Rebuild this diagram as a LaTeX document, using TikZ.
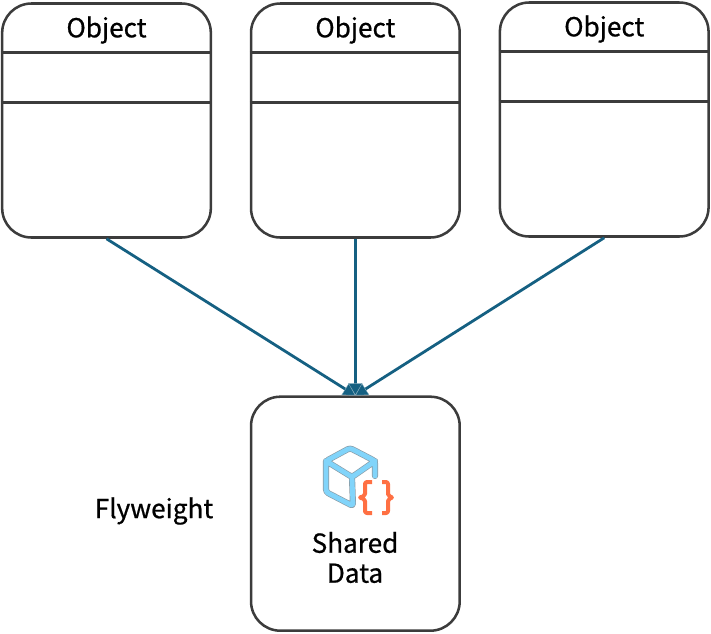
\documentclass[tikz,border=0pt]{standalone}
\usepackage{fontspec}
\setmainfont{Noto Sans CJK KR}[RawFeature={embolden=0.7}]
\usetikzlibrary{positioning,arrows.meta}

\begin{document}
\begin{tikzpicture}[
    x=0.75pt, y=-0.75pt,
    node distance=28.25pt,
    % boxes and labels
    objbox/.style={rectangle, draw=boxgray, line width=1.9pt, rounded corners=22pt, minimum width=156.5pt, minimum height=175.5pt, inner sep=0},
    caption/.style={font=\fontsize{19.6}{22.5}\selectfont, align=center, text=black, inner sep=0},
    rule/.style={draw=boxgray, line width=1.9pt},
    flow/.style={-{Triangle[length=9pt, width=10.5pt, fill=flowblue, color=flowblue!55, line width=0.3pt]}, draw=flowblue, line width=2.1pt}
  ]
  \definecolor{boxgray}{HTML}{3C3C3C}
  \definecolor{flowblue}{HTML}{156082}
  \definecolor{cubeblue}{HTML}{81D4FA}
  \definecolor{cubeedge}{HTML}{8A9BA5}
  \definecolor{braceorange}{HTML}{FF7043}

  \useasboundingbox (0,0) rectangle (711,633);

  % Objects
  \node[objbox] (obja) at (106.5,120.5) {};
  \node[objbox, right=of obja] (objb) {};
  \node[objbox, right=of objb, yshift=0.75pt] (objc) {};
  % Flyweight
  \node[objbox, below=117.5pt of objb] (shared) {};

  % Header rows
  \foreach \obj in {obja,objb,objc} {
    \node[caption, below=10.5pt of \obj.north] (\obj title) {Object};
    \draw[rule] ([yshift=-37.5pt]\obj.north west) -- ([yshift=-37.5pt]\obj.north east);
    \draw[rule] ([yshift=-75pt]\obj.north west) -- ([yshift=-75pt]\obj.north east);
  }

  % Labels
  \node[caption] (sharedtext) at (355,557.5) {Shared\\Data};
  \node[caption] (flyname) at (154,511) {Flyweight};

  % Icon
  \foreach \col/\wid in {cubeedge/4.6pt, cubeblue/3.6pt} {
    \draw[draw=\col, line width=\wid, line join=round, line cap=round, rounded corners=2pt]
      (375,476) -- (375,461) -- (350,448) -- (326,461) -- (352,477) -- (375,461)
      (326,461) -- (326,492) -- (353,506) -- (352,477);
  }
  \draw[draw=braceorange, line width=3pt, line join=round, rounded corners=1.5pt]
    (372,482) -- (365,482) -- (365,496) -- (359,497.5) -- (365,499) -- (365,513) -- (372,513)
    (382,482) -- (388,482) -- (388,496) -- (393,497.5) -- (388,499) -- (388,513) -- (382,513);

  % Flows
  \draw[flow] (obja.south) -- (shared.north);
  \draw[flow] (objc.south) -- (shared.north);
  \draw[flow] (objb.south) -- (shared.north);
\end{tikzpicture}
\end{document}
